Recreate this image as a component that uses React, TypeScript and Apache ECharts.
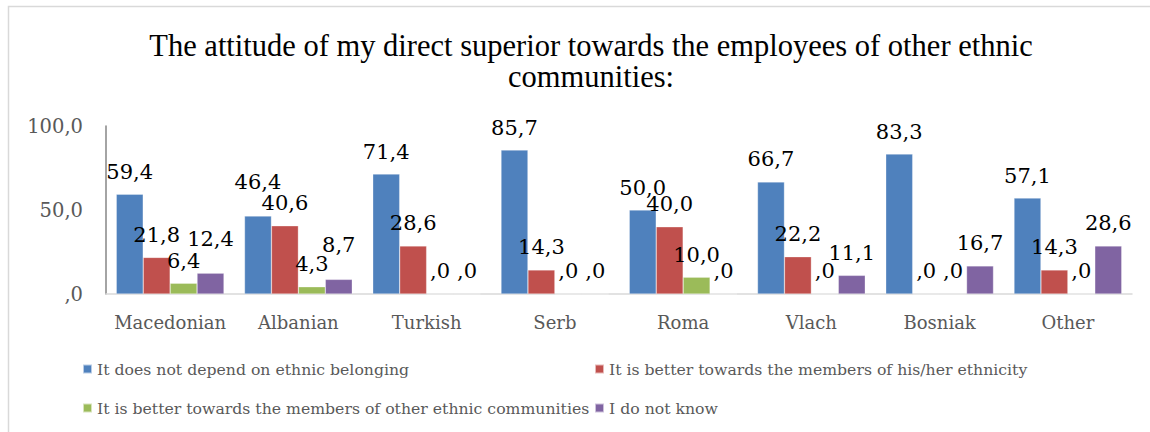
import React, { useEffect, useRef } from "react";
import * as echarts from "echarts";

const categories = ["Macedonian", "Albanian", "Turkish", "Serb", "Roma", "Vlach", "Bosniak", "Other"];
const seriesNames = [
  "It does not depend on ethnic belonging",
  "It is better towards the members of his/her ethnicity",
  "It is better towards the members of other ethnic communities",
  "I do not know",
];
const notDepend = [59.4, 46.4, 71.4, 85.7, 50.0, 66.7, 83.3, 57.1];
const betterOwn = [21.8, 40.6, 28.6, 14.3, 40.0, 22.2, 0.0, 14.3];
const betterOther = [6.4, 4.3, 0.0, 0.0, 10.0, 0.0, 0.0, 0.0];
const doNotKnow = [12.4, 8.7, 0.0, 0.0, 0.0, 11.1, 16.7, 28.6];
const colors = ["#4F81BD", "#C0504D", "#9BBB59", "#8064A2"];
const yTicks = [0, 50, 100];

// labels that the original raised to avoid overlaps: "seriesIndex-categoryIndex"
const raisedLabels = ["0-1", "3-0", "3-1"];

const fmt = (v: number) => {
  let s = Number(v).toFixed(1).replace(".", ",");
  if (s.startsWith("0")) s = s.slice(1);
  return s;
};

export default function App() {
  const ref = useRef<HTMLDivElement>(null);
  useEffect(() => {
    const chart = echarts.init(ref.current!, null, { renderer: "svg" });
    const values = [notDepend, betterOwn, betterOther, doNotKnow];
    chart.setOption({
      animation: false,
      backgroundColor: "#ffffff",
      title: {
        text: "The attitude of my direct superior towards the employees of other ethnic\ncommunities:",
        left: 586,
        top: 25,
        textAlign: "center",
        textStyle: {
          fontFamily: "Liberation Serif",
          fontSize: 30.5,
          fontWeight: "normal",
          color: "#000000",
          lineHeight: 31,
        },
      },
      graphic: [
        {
          type: "rect",
          shape: { x: 8.5, y: 6.5, width: 1200, height: 500 },
          style: { fill: "none", stroke: "#d9d9d9", lineWidth: 1.5 },
          silent: true,
        },
      ],
      legend: [
        {
          data: [seriesNames[0], seriesNames[2]],
          orient: "vertical",
          left: 77,
          top: 356,
          itemWidth: 9,
          itemHeight: 9,
          itemGap: 23,
          icon: "rect",
          textStyle: { fontFamily: "DejaVu Serif", fontSize: 15.7, color: "#595959" },
        },
        {
          data: [seriesNames[1], seriesNames[3]],
          orient: "vertical",
          left: 589,
          top: 356,
          itemWidth: 9,
          itemHeight: 9,
          itemGap: 23,
          icon: "rect",
          textStyle: { fontFamily: "DejaVu Serif", fontSize: 15.7, color: "#595959" },
        },
      ],
      grid: { left: 106, right: 18, top: 126, bottom: 138, containLabel: false },
      xAxis: {
        type: "category",
        data: categories,
        axisLine: { lineStyle: { color: "#d9d9d9", width: 1.5 } },
        axisTick: { show: false },
        axisLabel: { interval: 0, fontFamily: "DejaVu Serif", fontSize: 18, color: "#595959", margin: 19 },
      },
      yAxis: {
        type: "value",
        min: yTicks[0],
        max: yTicks[yTicks.length - 1],
        interval: 50,
        axisLine: { show: true, lineStyle: { color: "#868686", width: 1.5 } },
        axisTick: { show: false },
        splitLine: { show: false },
        axisLabel: {
          fontFamily: "DejaVu Serif",
          fontSize: 19.5,
          color: "#595959",
          margin: 23,
          formatter: (v: number) => fmt(v),
        },
      },
      series: values.map((d, i) => ({
        name: seriesNames[i],
        type: "bar",
        data: d.map((v, j) =>
          raisedLabels.includes(`${i}-${j}`) ? { value: v, label: { distance: 24 } } : v
        ),
        barGap: "0%",
        barCategoryGap: "16%",
        itemStyle: { color: colors[i], borderColor: "rgba(255,255,255,0.6)", borderWidth: 0.5 },
        label: {
          show: true,
          position: "top",
          distance: 12,
          fontFamily: "DejaVu Serif",
          fontSize: 21,
          color: "#000000",
          formatter: (p: any) => fmt(p.value),
        },
      })),
    });
    return () => chart.dispose();
  }, []);
  return (
    <div
      ref={ref}
      style={{ position: "absolute", left: 0, top: 0, width: 1150, height: 432 }}
    />
  );
}
